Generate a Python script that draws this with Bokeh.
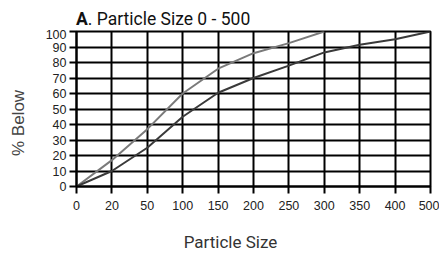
import math
from bokeh.plotting import figure
from bokeh.models import FixedTicker, Range1d, LinearAxis, Div
from bokeh.layouts import column
from bokeh.embed import file_html
from bokeh.resources import INLINE

sizes = [0, 20, 50, 100, 150, 200, 250, 300, 350, 400, 500]
tick_labels = ["0", "20", "50", "100", "150", "200", "250", "300", "350", "400", "500"]
y_ticks = [0, 10, 20, 30, 40, 50, 60, 70, 80, 90, 100]

light_sizes = [0, 20, 50, 100, 150, 200, 250, 300]
light_vals = [0, 17, 37, 60, 76, 86, 92.5, 100]

dark_sizes = [0, 20, 50, 100, 150, 200, 250, 300, 350, 400, 500]
dark_vals = [0, 10, 25, 45, 60.5, 70, 78, 86.5, 91.5, 95, 100]

title_bold = "A"
title_rest = ". Particle Size 0 - 500"
x_title = "Particle Size"
y_title = "% Below"

pos = {s: i for i, s in enumerate(sizes)}

p = figure(width=439, height=225, output_backend="svg", toolbar_location=None,
           x_range=Range1d(0, len(sizes) - 1), y_range=Range1d(0, 100),
           min_border_left=76, min_border_right=9, min_border_top=2, min_border_bottom=66)
p.background_fill_color = "white"
p.border_fill_color = "white"
p.outline_line_color = "black"
p.outline_line_width = 2

p.xaxis.ticker = FixedTicker(ticks=list(range(len(sizes))))
p.xaxis.major_label_overrides = {i: t for i, t in enumerate(tick_labels)}
p.yaxis.ticker = FixedTicker(ticks=y_ticks)

for ax in (p.xaxis, p.yaxis):
    ax.axis_line_color = "black"
    ax.axis_line_width = 2
    ax.major_tick_line_color = "black"
    ax.major_tick_line_width = 2
    ax.major_tick_out = 7
    ax.major_tick_in = 0
    ax.minor_tick_line_color = None
    ax.major_label_text_font = "Liberation Sans"
    ax.major_label_text_font_size = "12.5px"
    ax.major_label_text_color = "#222222"

p.xaxis.major_label_standoff = 7
p.yaxis.major_label_standoff = 3

p.xgrid.ticker = FixedTicker(ticks=list(range(len(sizes))))
p.ygrid.ticker = FixedTicker(ticks=y_ticks)
for g in (p.xgrid, p.ygrid):
    g.grid_line_color = "black"
    g.grid_line_width = 2
    g.grid_line_alpha = 1.0

p.line([pos[s] for s in light_sizes], light_vals, line_color="#7a7a7a", line_width=2)
p.line([pos[s] for s in dark_sizes], dark_vals, line_color="#3a3a3a", line_width=2)

# axis titles as label-only extra axes (placed slightly off-centre like the original)
x_title_at = 4.35
y_title_at = 41
xt = LinearAxis(ticker=FixedTicker(ticks=[x_title_at]),
                major_label_overrides={x_title_at: x_title},
                axis_line_color=None, major_tick_line_color=None, minor_tick_line_color=None,
                major_label_text_font="Roboto", major_label_text_font_size="17px",
                major_label_text_color="#333333", major_label_standoff=13)
yt = LinearAxis(ticker=FixedTicker(ticks=[y_title_at]),
                major_label_overrides={y_title_at: y_title},
                major_label_orientation="parallel",
                axis_line_color=None, major_tick_line_color=None, minor_tick_line_color=None,
                major_label_text_font="Liberation Sans", major_label_text_font_size="17px",
                major_label_text_color="#444444", major_label_standoff=8)
p.add_layout(xt, "below")
p.add_layout(yt, "left")

title = Div(text=f"<b>{title_bold}</b>{title_rest}", width=363, height=29,
            margin=(0, 0, 0, 76),
            styles={"font-family": "Roboto", "font-size": "17.5px", "color": "#111111",
                    "line-height": "20px", "padding-top": "9px", "box-sizing": "border-box",
                    "white-space": "nowrap"})

layout = column(title, p, spacing=0)

open("out.html", "w").write(file_html(layout, INLINE))
